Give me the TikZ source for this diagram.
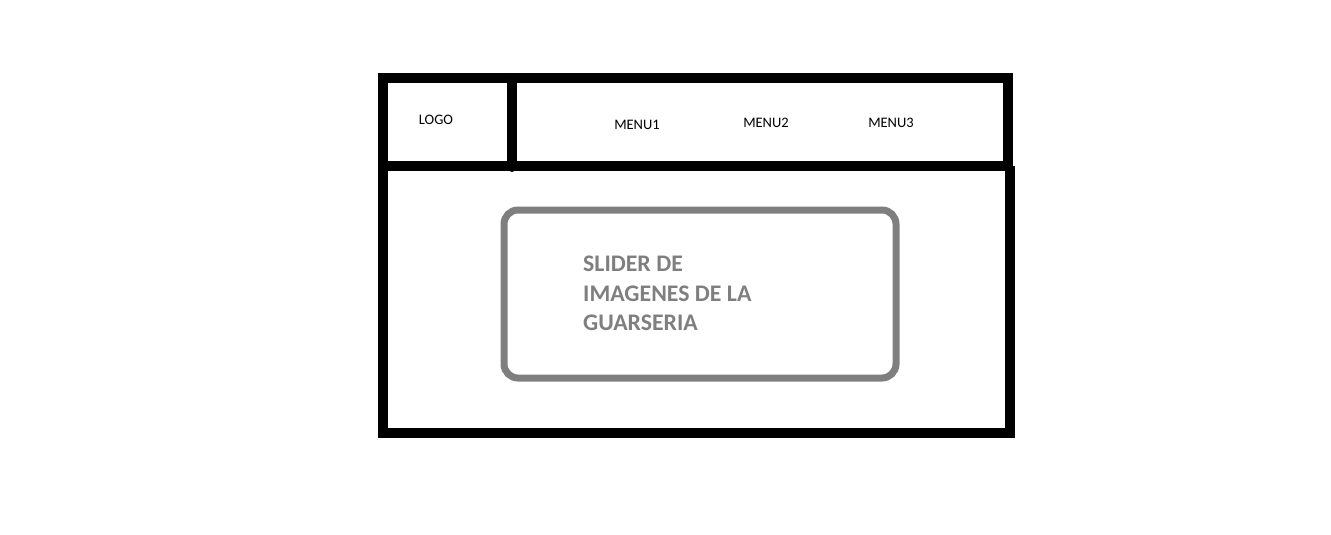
\documentclass[tikz,border=0pt]{standalone}
\usepackage{fontspec}
\setmainfont{Carlito}
\definecolor{slidergray}{HTML}{7F7F7F}
\tikzset{
  frame/.style={draw=black,line width=10pt,line join=miter},
  slider/.style={draw=slidergray,line width=7pt,rounded corners=14pt},
  menutext/.style={inner sep=0pt,font=\fontsize{14.5}{17}\selectfont},
}
\begin{document}
\begin{tikzpicture}[x=1pt,y=-1pt]
        \useasboundingbox (0,0) rectangle (1331,535);
        % header and page
        \draw[frame] (383,78) rectangle (1008,166);
        \draw[frame] (383,166) -- (383,433) -- (1010,433) -- (1010,166);
        \draw[frame,line cap=round] (512,78) -- (512,167);
        % slider
        \draw[slider] (504,210) rectangle (896,378);

        \node[menutext] (logo) at (436,120) {LOGO};
        \node[menutext] (menua) at (637,125) {MENU1};
        \node[menutext] (menub) at (766,123) {MENU2};
        \node[menutext] (menuc) at (891,123) {MENU3};
        \node[anchor=west,inner sep=0pt,align=left,text=slidergray,
          font=\fontsize{23.8}{29.5}\selectfont\bfseries] (slidertext) at (583,293.5)
          {SLIDER DE\\IMAGENES DE LA\\GUARSERIA};
\end{tikzpicture}
\end{document}
